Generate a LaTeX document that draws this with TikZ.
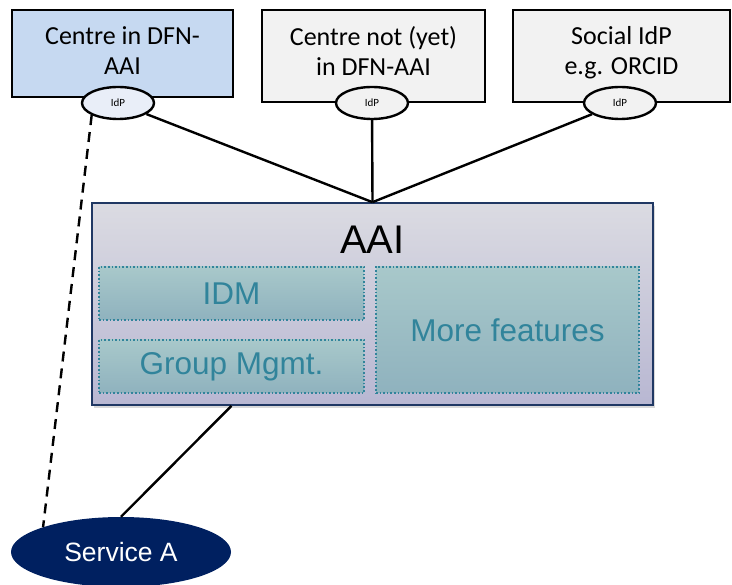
\documentclass[tikz,border=0pt]{standalone}
\usepackage{fontspec}
\setmainfont{Carlito}
\newfontfamily\arialfont{Liberation Sans}
\usetikzlibrary{positioning,shapes.geometric,shadows}

\definecolor{centreblue}{HTML}{C6D9F1}
\definecolor{boxgrey}{HTML}{F2F2F2}
\definecolor{idpblue}{HTML}{E9EEF8}
\definecolor{aainavy}{HTML}{203864}
\definecolor{servicenavy}{HTML}{002060}
\definecolor{featteal}{HTML}{31849B}

\tikzset{
  site/.style={draw, line width=2.4pt, align=center,
    font=\fontsize{26}{30}\selectfont},
  idp/.style={ellipse, draw, line width=2.4pt, minimum width=72pt,
    minimum height=32pt, inner sep=0pt, font=\fontsize{11}{12}\selectfont},
  feature/.style={draw=featteal, dotted, line width=1.6pt,
    top color={rgb,255:red,168;green,200;blue,202},
    bottom color={rgb,255:red,143;green,178;blue,190},
    text=featteal, font=\arialfont\fontsize{31.5}{33}\selectfont},
  link/.style={line width=2.4pt}
}

\begin{document}
\begin{tikzpicture}[x=1pt, y=1pt]
  \useasboundingbox (0,0) rectangle (732,-585);

  % identity providers
  \node[site, fill=centreblue, minimum width=221pt, minimum height=87pt,
    text depth=6pt] (c1) at (122.5,-53.5) {Centre in DFN-\\AAI};
  \node[site, fill=boxgrey, minimum width=223pt, minimum height=92pt,
    text depth=10pt] (c2) at (373.5,-56) {Centre not (yet)\\in DFN-AAI};
  \node[site, fill=boxgrey, minimum width=217pt, minimum height=92pt,
    text depth=11pt] (c3) at (621.5,-56) {Social IdP\\e.g. ORCID};

  \node[idp, fill=idpblue] (e1) at (118,-103) {IdP};
  \node[idp, fill=boxgrey] (e2) at (372,-103) {IdP};
  \node[idp, fill=boxgrey] (e3) at (620,-103) {IdP};

  % AAI
  \node[draw=aainavy, line width=1.6pt, minimum width=561pt, minimum height=202pt,
    top color={rgb,255:red,219;green,219;blue,226},
    bottom color={rgb,255:red,184;green,183;blue,210},
    drop shadow={shadow xshift=2pt, shadow yshift=-3pt, opacity=0.3}] (aai)
    at (372.5,-304) {};
  \node[font=\arialfont\fontsize{40}{42}\selectfont] (aaititle)
    at (372.5,-240) {AAI};

  \node[feature, minimum width=265pt, minimum height=53pt] (idm)
    at (231.5,-293.5) {IDM};
  \node[feature, minimum width=265pt, minimum height=53pt] (grp)
    at (231.5,-366.5) {Group Mgmt.};
  \node[feature, minimum width=263pt, minimum height=126pt] (more)
    at (507.5,-330) {More features};

  % service
  \node[ellipse, fill=servicenavy, minimum width=220pt, minimum height=70pt,
    text=white, font=\arialfont\fontsize{26.5}{28}\selectfont] (service)
    at (121,-552) {Service A};

  \draw[link] (e1) -- (aai.north);
  \draw[link] (e2) -- (aai.north);
  \draw[link] (e3) -- (aai.north);

  \coordinate (aaiout) at ([xshift=-141pt]aai.south);
  \draw[link] (aaiout) -- (service.north);
  \draw[link, dashed, dash pattern=on 10pt off 7pt] (e1.south west) -- (service.north west);
\end{tikzpicture}
\end{document}
